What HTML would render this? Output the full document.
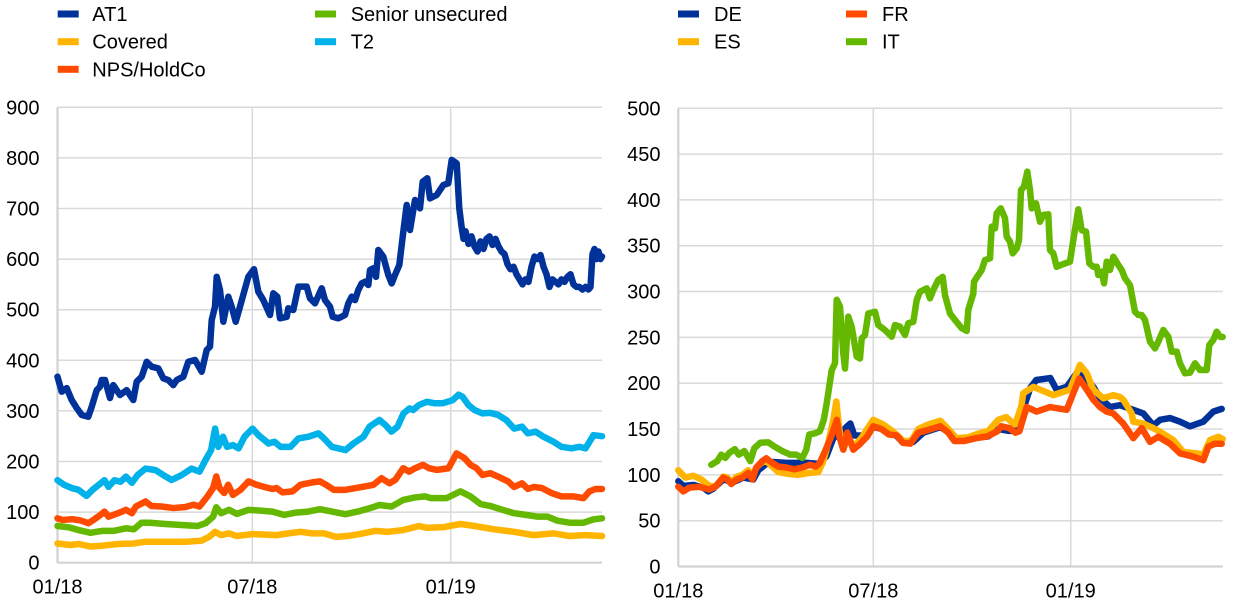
<!DOCTYPE html>
<html>
<head>
<meta charset="utf-8">
<style>
  html, body { margin:0; padding:0; background:#fff; }
  svg { display:block; }
  text { font-family: "Liberation Sans", Arial, sans-serif; font-size:20px; fill:#000; }
  .grid { stroke:#d9d9d9; stroke-width:1.5; fill:none; }
  .axis { stroke:#d2d2d2; stroke-width:2.2; fill:none; }
  .s { fill:none; stroke-width:6.5; stroke-linejoin:round; stroke-linecap:round; vector-effect:non-scaling-stroke; }
</style>
</head>
<body>
<svg width="1240" height="609" viewBox="0 0 1240 609" xmlns="http://www.w3.org/2000/svg">
  <!-- LEFT LEGEND -->
  <rect x="57.7" y="10.5" width="21" height="7" fill="#003299"/>
  <text x="92.3" y="21">AT1</text>
  <rect x="57.7" y="38.2" width="21" height="7" fill="#FFB400"/>
  <text x="92.3" y="48.7">Covered</text>
  <rect x="57.7" y="65.8" width="21" height="7" fill="#FF4B00"/>
  <text x="92.3" y="76.3">NPS/HoldCo</text>
  <rect x="315" y="10.5" width="21" height="7" fill="#65B800"/>
  <text x="350.7" y="21">Senior unsecured</text>
  <rect x="315" y="38.2" width="21" height="7" fill="#00B1EA"/>
  <text x="350.7" y="48.7">T2</text>

  <!-- RIGHT LEGEND -->
  <rect x="678" y="10.5" width="21" height="7" fill="#003299"/>
  <text x="714" y="21">DE</text>
  <rect x="678" y="38.2" width="21" height="7" fill="#FFB400"/>
  <text x="714" y="48.7">ES</text>
  <rect x="846" y="10.5" width="21" height="7" fill="#FF4B00"/>
  <text x="882" y="21">FR</text>
  <rect x="846" y="38.2" width="21" height="7" fill="#65B800"/>
  <text x="882" y="48.7">IT</text>

  <!-- LEFT GRID -->
  <g class="grid">
    <line x1="57.5" y1="107.3" x2="602" y2="107.3"/>
    <line x1="57.5" y1="157.9" x2="602" y2="157.9"/>
    <line x1="57.5" y1="208.5" x2="602" y2="208.5"/>
    <line x1="57.5" y1="259.1" x2="602" y2="259.1"/>
    <line x1="57.5" y1="309.7" x2="602" y2="309.7"/>
    <line x1="57.5" y1="360.3" x2="602" y2="360.3"/>
    <line x1="57.5" y1="410.9" x2="602" y2="410.9"/>
    <line x1="57.5" y1="461.5" x2="602" y2="461.5"/>
    <line x1="57.5" y1="512.1" x2="602" y2="512.1"/>
    <line x1="252.3" y1="107.3" x2="252.3" y2="562.7"/>
    <line x1="450.7" y1="107.3" x2="450.7" y2="562.7"/>
  </g>
  <g class="axis">
    <line x1="57.5" y1="107.3" x2="57.5" y2="562.7"/>
    <line x1="57.5" y1="562.7" x2="602" y2="562.7"/>
  </g>
  <g text-anchor="end">
    <text x="39.5" y="114.3">900</text>
    <text x="39.5" y="164.9">800</text>
    <text x="39.5" y="215.5">700</text>
    <text x="39.5" y="266.1">600</text>
    <text x="39.5" y="316.7">500</text>
    <text x="39.5" y="367.3">400</text>
    <text x="39.5" y="417.9">300</text>
    <text x="39.5" y="468.5">200</text>
    <text x="39.5" y="519.1">100</text>
    <text x="39.5" y="569.7">0</text>
  </g>
  <g text-anchor="middle">
    <text x="57.5" y="593.5">01/18</text>
    <text x="252.3" y="593.5">07/18</text>
    <text x="450.7" y="593.5">01/19</text>
  </g>

  <!-- RIGHT GRID -->
  <g class="grid">
    <line x1="678.3" y1="108.3" x2="1222.7" y2="108.3"/>
    <line x1="678.3" y1="154.1" x2="1222.7" y2="154.1"/>
    <line x1="678.3" y1="199.9" x2="1222.7" y2="199.9"/>
    <line x1="678.3" y1="245.7" x2="1222.7" y2="245.7"/>
    <line x1="678.3" y1="291.5" x2="1222.7" y2="291.5"/>
    <line x1="678.3" y1="337.4" x2="1222.7" y2="337.4"/>
    <line x1="678.3" y1="383.2" x2="1222.7" y2="383.2"/>
    <line x1="678.3" y1="429" x2="1222.7" y2="429"/>
    <line x1="678.3" y1="474.8" x2="1222.7" y2="474.8"/>
    <line x1="678.3" y1="520.7" x2="1222.7" y2="520.7"/>
    <line x1="873.3" y1="108.3" x2="873.3" y2="566.5"/>
    <line x1="1070.7" y1="108.3" x2="1070.7" y2="566.5"/>
  </g>
  <g class="axis">
    <line x1="678.3" y1="108.3" x2="678.3" y2="566.5"/>
    <line x1="678.3" y1="566.5" x2="1222.7" y2="566.5"/>
  </g>
  <g text-anchor="end">
    <text x="660.5" y="115.3">500</text>
    <text x="660.5" y="161.1">450</text>
    <text x="660.5" y="206.9">400</text>
    <text x="660.5" y="252.7">350</text>
    <text x="660.5" y="298.5">300</text>
    <text x="660.5" y="344.4">250</text>
    <text x="660.5" y="390.2">200</text>
    <text x="660.5" y="436">150</text>
    <text x="660.5" y="481.8">100</text>
    <text x="660.5" y="527.7">50</text>
    <text x="660.5" y="573.5">0</text>
  </g>
  <g text-anchor="middle">
    <text x="678.3" y="597.5">01/18</text>
    <text x="873.3" y="597.5">07/18</text>
    <text x="1070.7" y="597.5">01/19</text>
  </g>

  <!-- LEFT SERIES -->
  <g transform="translate(57.5,562.7) scale(1,-0.506)">
    <!-- AT1 -->
    <polyline class="s" stroke="#003299" points="0,367.6 4.2,338 9.2,345 14.2,321.5 19.2,305.7 24.2,292 30.8,288.5 34.2,308 39.2,341 42.5,348 44.2,361 47.5,361 52.5,325.5 55.8,351 62.5,331.4 69.2,341 75.8,321.5 79.2,357.7 84.2,367.6 89.2,397 94.2,387.4 100.8,384 105.8,364.4 110.8,361 115.8,351 119.2,361 125.8,367.6 130.8,397 137.5,400.6 144.2,377.5 149.2,420.4 152.5,427 154.2,479.6 157.5,506 159.2,565 162.5,539 165.8,476.3 170.8,525.7 174.2,506 178.2,476.3 182.5,506 190.8,565 196.5,580 200.8,535.6 205.8,519 212.5,489.5 215.8,532.4 219.8,525.7 222.5,483 229.2,486 230.8,502.8 235.8,499.4 240.8,545.5 249.2,545.5 252.5,522.5 257.5,512.6 264.2,542.3 267.5,519 272.5,506 275.2,486 280.8,483 287.5,489.5 290.8,512.6 294.2,525.7 297.5,519 300.8,539 304.2,552 307.5,555.3 310.8,548.8 312.5,578.5 315.8,581.8 318.5,565 320.8,618 325.8,604.7 330.8,568.6 334.2,552 337.5,568.6 341.8,588.3 345.8,654 349.2,707 352.5,657.5 357.5,716.8 362.5,700.4 365.2,753 369.8,759.7 372.5,720 379.2,726.7 385.8,746.4 390.8,749.8 394.2,796 399.2,789.3 401.8,700 404,665 406,640 408,655 411,630 414,645 417,625 420,615 423,635 426,620 429,640 432,645 435,628 438,640 441,625 444,615 447,610 450,590 453,580 456,585 459,570 462,560 465,550 468,560 471,555 474,585 477,605 480,600 483,608 486,585 489,570 492,545 495,560 498,555 501,550 504,560 507,555 510,565 513,570 516,550 519,545 522,545 525,540 528,545 531,540 533,545 535,610 537,620 539,600 541,615 543,600 544.5,605"/>
    <!-- Covered -->
    <polyline class="s" stroke="#FFB400" points="0,38 13,35 21,37 33,32 45,33.6 60.6,37 76.4,38 88,41.5 108,41.5 128,41.5 144,43.5 151.6,51 157.6,61 163.6,54.5 171.5,58 179.4,52.7 195,56.6 219,54.5 231,58 243,61 254.6,58 266.5,58 278.4,51 290,52.7 302,56.6 318,63 330,61 345.7,64.5 361.5,72.5 369.5,69 385,70 403,76.5 417,72.5 436.7,66 456.6,61 476,54.5 496,58 512,52.7 528,54.5 544.5,52.7"/>
    <!-- NPS/HoldCo -->
    <polyline class="s" stroke="#FF4B00" points="0,87.7 5,84.5 15,86 23,83.5 31,78 37,86 43,94.5 47,101 51,91 60.6,97.8 68.5,104.5 74.4,97.8 78.4,111 88,121 94,112 104,111 116,108 128,110 136,114.6 142,111 150,131 155.6,147.6 158.8,170.5 162,147.6 166.7,137.7 170.7,154 175.4,134 183,144 191,160.7 199,154 207,149.7 215,145.7 219,147.6 225,139 235,141 243,154 254.6,158.7 262.5,160.7 268.5,154 276.4,144 288,144 298,147.6 308,151 316,154 324,167 332,157 337.8,163.7 345.7,186.7 351.6,180 357.6,186.7 365.5,193.4 371.5,186.7 379.4,183.4 391,186.7 399,216 407,206.6 413,193.4 419,186.7 425,173.4 433,176.8 440.7,170 450.6,160.7 456.6,149.7 464.5,157 470.4,145.7 476.4,149.7 484.3,147.6 494,137.7 504,131 516,131 526,127.6 532,141 538,145.7 544.5,145.7"/>
    <!-- Senior unsecured -->
    <polyline class="s" stroke="#65B800" points="0,72.5 11,70 21,64.5 33,59 45,63 56.6,63 68.5,68 76.4,66 84,79 92,79 108,76.5 124,74.5 140,72.5 148,78 155.6,91 158.8,109.5 163.6,97.8 171.5,104.5 179.4,96.5 191,104.5 203,103 215,101 226.5,94.5 238.5,99 250.6,101 262.5,105.7 274.4,101 288,95.8 300,101 312,107.5 322,114 334,111 345.7,124 357.6,129 367.5,131 373.4,127.6 389,127.6 403,141 413,131 423,116 433,112 445,104.5 456.6,97.8 468.5,94.5 480.3,91 490,91 500,83 512,79 526,79 536,85.6 544.5,87.7"/>
    <!-- T2 -->
    <polyline class="s" stroke="#00B1EA" points="0,163 7,153.5 15,147 21,144 29,132 35,144 41,153.5 47,163 51,150 57,163 63,160 68.5,170 74.4,158 80,173 88,186 98,183 106,173 114,163.5 124,173 134,186 142,180 148,203 153.6,222.6 157.6,265 160.8,229 165.5,249 169.5,229 175.4,232.5 181,226 187,249 195,265 201,252 211,235.7 217,239 223,229 233,229 241,245.6 251,249 261,255.6 266.5,245.6 274.4,229 288,222.6 296,235.7 306,249 312,268.8 322,282 328,272 334,259 340,268.8 346,295 352,305 355.6,301.7 361.5,311.6 369.5,318 377.4,315 385,315 395,321 401,332 405,328 411,311.6 417,301.7 425,295 433,296 440.7,292 448.7,282 456.6,265 464.5,268.8 470.4,255.6 478,259 486,249 496,239 504,229 514,226 522,229 528,226 532,239 536,252 544.5,250"/>
  </g>

  <!-- RIGHT SERIES -->
  <g transform="translate(678.3,566.5) scale(1,-0.9165)">
    <!-- DE -->
    <polyline class="s" stroke="#003299" points="0,93 5,88 15,89 25,86 30,82 35,85 45,95 55,92 65,97 75,95 80,105 88,112 95,114 110,113 130,113 140,112 148,120 155,140 162,145 168,152 172,156 176,143 185,143 195,152 205,150 215,146 225,135 235,136 245,146 262,152 270,147 278,138 295,140 310,142 320,150 330,148 338,148 345,172 352,195 358,203.5 372,205.6 378.4,192.6 388.4,196 398.4,211 408.4,205 415,196 421.7,184 431.7,174 441.7,176 455,171 465,167 475,154 481.7,160 491.7,162 501.7,158 511.7,153 525,158 535,169 543.4,172"/>
    <!-- ES -->
    <polyline class="s" stroke="#FFB400" points="0,105 7,97 15,99 23,95 31,88 37,87 45,98 49,97 53,92 58.5,98 64,100 70,105 74,98 78,108 84,114 88,115 95,108 100,103 110,101 120,100 130,102 140,103 145,115 150,135 155,160 158,180 161,150 165,128 170,142 175,130 183,140 190,152 195,160 205,155 215,147 225,137 233,137 240,150 250,155 262,159 270,150 278,140 290,141 300,145 310,148 320,160 328,163 333,158 337,155 343,175 345,189 355,196 375,187 391.7,193 401.7,220 408.4,211 415,193 425,183.5 435,187 441.7,185 445,182 453.4,167 455,158 465,156 475,151 481.7,147 495,138 505,125 518.4,123.5 525,121.7 531.7,138 540,141.6 544.4,139"/>
    <!-- FR -->
    <polyline class="s" stroke="#FF4B00" points="0,87 5,82 11,86 21,87 31,84 37,87 45,97 49,95 53,90 58.5,95 64,97 70,102 74,95 78,108 84,115 88,118 94,113 100,109 108,108 116,106 124,108 131.6,111 137.5,109 141.5,113 147.4,127.5 153,142 158.5,160 161,142 165,127.5 169,146 175,127.5 181,133 189,142 195,153 203,150 210.6,144 218.5,143 224.5,135 232,134 240,146 250,149 262,153 270,146 276,137 286,137 297.5,140 309,142 319,147.5 323,153 331,151 337,146 341,147.5 345,162 348.4,174 358.4,169 371.7,174 388.4,171 395,189 401,205 408.4,193 415,182 421.7,174 428.4,169 435,167 445,156 455,140 463.4,151 471.7,136 480,141.6 491.7,134 501.7,123.5 515,119.8 525,116 530,130.7 536.7,134 543.4,134"/>
    <!-- IT -->
    <polyline class="s" stroke="#65B800" points="33,111 39,115 43,122 47,118.5 51,124 56.5,128 60.5,122 66,126 72,115 76,129 82,135 90,135.5 96,131 104,126 112,122 118,122 124,118.5 128,127.5 131,144 137.5,145.6 141.5,147.5 145.5,160 148.4,178 153.4,214 156.7,222 158.4,291 161.7,283.5 165,232.6 166.7,216 170,272.6 173.4,261.6 178.4,229 181.7,227 183.4,249 186.7,252.6 190,276 196.7,278 200,263.5 206.7,258 213.4,250.7 216.7,263.5 221.7,261.6 226.7,252.6 230,265.4 235,267 238.4,290.8 241.7,299.8 248.4,303.5 251.7,292.6 255,301.7 260,312.6 264.4,316 266.7,296 271.7,276 276.7,269 283.4,260 288.4,257 290,280 295,298 295.7,310.7 300,318 303.4,323.5 306.7,334.4 311.7,336.3 313.4,370.8 316.7,369 318.4,385.4 322.4,390.8 326.7,380 328.4,360 331.7,354.4 334.4,341.7 338.4,347 340.7,356 342.7,410.8 345.7,414.4 349,430.8 351.7,410.8 353.4,390.8 357.7,396.3 361.7,376.2 365,383.5 370,384.3 371.7,345.3 375,341.7 378.4,327 385,330 391.7,332.6 395,356.2 400,389.7 403.4,367 407.7,365.3 411,330.8 415,327 418.4,327 420,318 423.4,321.7 425.7,309 428.4,332.6 431.7,323.5 435,338 440,329 443.4,323.5 446.7,314.5 451.7,307 456.7,278 460,274.4 463.4,274.4 466.7,269 471.7,245.3 476.7,238 480,245.3 485,258 490,250.7 493.4,234.4 498.4,234.4 501.7,221.7 506.7,210.8 511.7,211.5 516.7,221.7 521.7,214.4 528.4,214.4 531,241.7 535,247.2 538.4,256.2 541.7,250.7 544.4,250.4"/>
  </g>
</svg>
</body>
</html>
